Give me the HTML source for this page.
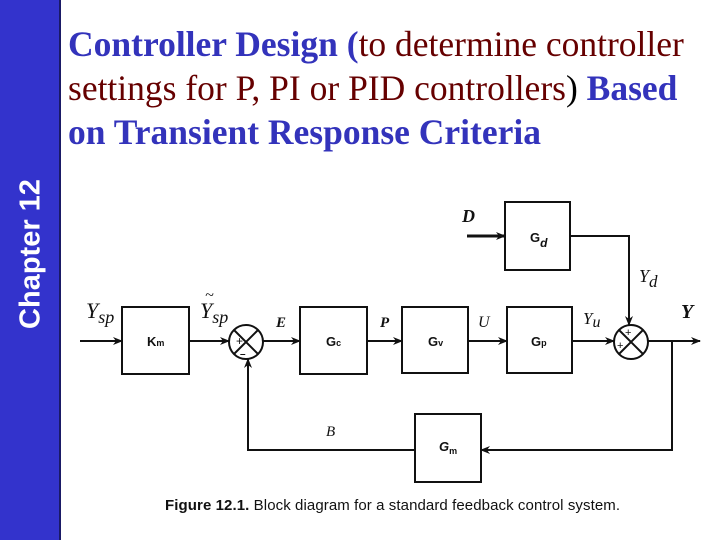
<!DOCTYPE html>
<html><head><style>
body{margin:0;width:720px;height:540px;background:#fff;position:relative;overflow:hidden}
.side{position:absolute;left:0;top:0;width:59px;height:540px;background:#3333cc;border-right:2px solid #1a1a66}
.ch{position:absolute;left:31px;top:254px;transform:translate(-50%,-50%) rotate(-90deg);color:#fff;font:bold 29px "Liberation Sans",sans-serif;white-space:nowrap}
.t{position:absolute;left:68px;top:22px;font:35.5px/44px "Liberation Serif",serif;color:#660000;white-space:nowrap}
.b{color:#3333bb;font-weight:bold}
</style></head><body>
<div class="side"></div><div class="ch">Chapter 12</div>
<div class="t"><span class="b">Controller Design (</span>to determine controller<br>settings for P, PI or PID controllers<span style="color:#000">)</span> <span class="b">Based</span><br><span class="b">on Transient Response Criteria</span></div>
<svg width="720" height="540" style="position:absolute;left:0;top:0" font-family="Liberation Serif,serif">
<defs><marker id="a" markerWidth="10" markerHeight="8" refX="9" refY="4" orient="auto" markerUnits="userSpaceOnUse"><path d="M0,0 L10,4 L0,8 L3,4z" fill="#111"/></marker></defs>
<g fill="none" stroke="#111" stroke-width="2">
<rect x="122" y="307" width="67" height="67"/>
<rect x="300" y="307" width="67" height="67"/>
<rect x="402" y="307" width="66" height="66"/>
<rect x="507" y="307" width="65" height="66"/>
<rect x="505" y="202" width="65" height="68"/>
<rect x="415" y="414" width="66" height="68"/>
<ellipse cx="246" cy="342" rx="17" ry="17"/>
<ellipse cx="631" cy="342" rx="17" ry="17"/>
<path d="M234,330 L258,354 M258,330 L234,354 M619,330 L643,354 M643,330 L619,354"/>
<path d="M80,341 H122" marker-end="url(#a)"/>
<path d="M189,341 H229" marker-end="url(#a)"/>
<path d="M263,341 H300" marker-end="url(#a)"/>
<path d="M367,341 H402" marker-end="url(#a)"/>
<path d="M468,341 H507" marker-end="url(#a)"/>
<path d="M572,341 H614" marker-end="url(#a)"/>
<path d="M648,341 H700" marker-end="url(#a)"/>
<path d="M467,236 H505" stroke-width="3" marker-end="url(#a)"/>
<path d="M570,236 H629 V325" marker-end="url(#a)"/>
<path d="M672,341 V450 H481" marker-end="url(#a)"/>
<path d="M415,450 H248 V359" marker-end="url(#a)"/>
</g>
<g font-style="italic" fill="#111">
<text x="86" y="318" font-size="22">Y<tspan font-size="18" dy="5">sp</tspan></text>
<text x="200" y="318" font-size="22">Y<tspan font-size="18" dy="5">sp</tspan></text>
<text x="205" y="300" font-size="16">~</text>
<text x="276" y="327" font-size="15" font-weight="bold">E</text>
<text x="380" y="327" font-size="15" font-weight="bold">P</text>
<text x="478" y="327" font-size="16">U</text>
<text x="583" y="324" font-size="17">Y<tspan font-size="16" dy="3">u</tspan></text>
<text x="462" y="222" font-size="18" font-weight="bold">D</text>
<text x="639" y="282" font-size="18">Y<tspan font-size="17" dy="5">d</tspan></text>
<text x="681" y="318" font-size="20" font-weight="bold">Y</text>
<text x="326" y="436" font-size="15">B</text>
</g>
<g font-family="Liberation Sans,sans-serif" fill="#111" font-size="13" font-weight="bold">
<text x="147" y="346">K<tspan font-size="9">m</tspan></text>
<text x="326" y="346">G<tspan font-size="9">c</tspan></text>
<text x="428" y="346">G<tspan font-size="9">v</tspan></text>
<text x="531" y="346">G<tspan font-size="9">p</tspan></text>
<text x="530" y="242">G<tspan font-size="12" font-style="italic" dy="5">d</tspan></text>
<text x="439" y="451" font-style="italic">G<tspan font-size="9" font-style="normal" dy="3">m</tspan></text>
<text x="236" y="345" font-size="12" font-weight="normal">+</text>
<text x="240" y="357" font-size="10">–</text>
<text x="625" y="336" font-size="11" font-weight="normal">+</text>
<text x="617" y="349" font-size="11" font-weight="normal">+</text>
</g>
<text x="165" y="510" font-family="Liberation Sans,sans-serif" font-size="15" fill="#111" textLength="455"><tspan font-weight="bold">Figure 12.1.</tspan>   Block diagram for a standard feedback control system.</text>
</svg>
</body></html>
